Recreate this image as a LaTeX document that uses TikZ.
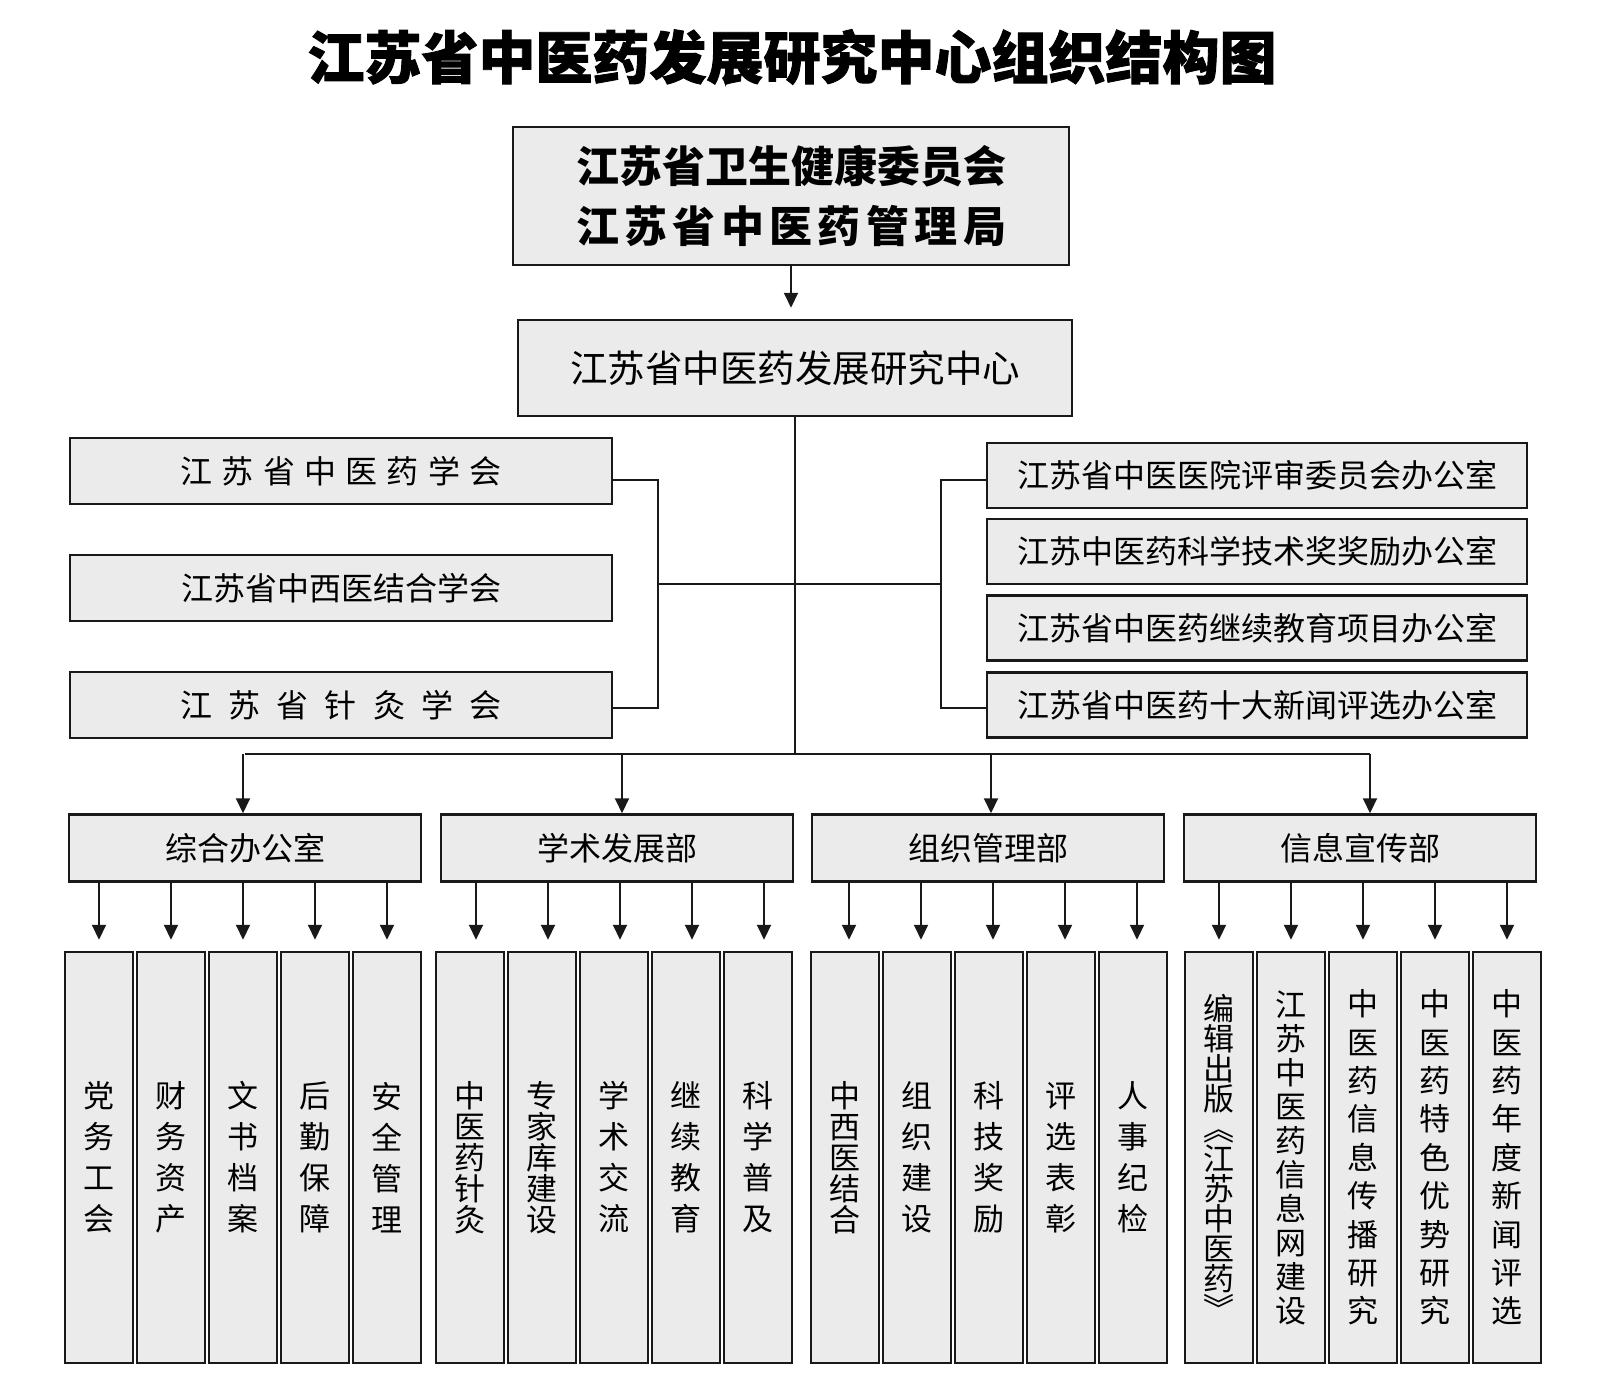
\documentclass[tikz,border=0pt]{standalone}
\usepackage{fontspec}
\setmainfont{Noto Sans CJK SC}
\newfontfamily\titlefont[BoldFeatures={FakeBold=1.5}]{Noto Sans CJK SC}
\usetikzlibrary{shapes,arrows.meta,positioning,calc}
\definecolor{boxgray}{RGB}{235,235,235}
\definecolor{linegray}{RGB}{25,25,25}

\tikzset{
  box/.style={draw=linegray, line width=2.5pt, fill=boxgray, inner sep=0pt, align=center},
  conn/.style={draw=linegray, line width=2pt},
  arr/.style={conn, -{Triangle[length=15pt,width=14pt]}},
  soc/.style={box, minimum width=542pt, minimum height=66pt, font=\fontsize{32}{36}\selectfont},
  office/.style={box, minimum width=540pt, minimum height=65pt, font=\fontsize{32}{36}\selectfont},
  dept/.style={box, minimum width=352pt, minimum height=67pt, font=\fontsize{32}{36}\selectfont},
  leaf/.style={box, minimum width=68pt, minimum height=411pt, font=\fontsize{31}{#1}\selectfont},
}

\begin{document}
\begin{tikzpicture}[x=1pt, y=-1pt]
  \useasboundingbox (0,0) rectangle (1616,1395);
  % title
  \node (title) at (792,57) {\titlefont\bfseries\fontsize{57}{60}\selectfont 江苏省中医药发展研究中心组织结构图};

  % top levels
  \node[box, minimum width=556pt, minimum height=138pt, font=\bfseries\fontsize{43}{60}\selectfont] (wjw) at (791,196) {江苏省卫生健康委员会\\\makebox[430pt][s]{江\hfill 苏\hfill 省\hfill 中\hfill 医\hfill 药\hfill 管\hfill 理\hfill 局}};
  \node[box, minimum width=554pt, minimum height=96pt, font=\fontsize{37.5}{40}\selectfont] (zx) at (795,368) {江苏省中医药发展研究中心};
  \draw[arr, shorten >=11pt] (wjw.south) -- (wjw.south |- zx.north);

  % societies (left) and offices (right)
  \node[soc] (xh1) at (341,471) {\makebox[321pt][s]{江\hfill 苏\hfill 省\hfill 中\hfill 医\hfill 药\hfill 学\hfill 会}};
  \node[soc] (xh2) at (341,588) {江苏省中西医结合学会};
  \node[soc] (xh3) at (341,705) {\makebox[321pt][s]{江\hfill 苏\hfill 省\hfill 针\hfill 灸\hfill 学\hfill 会}};

  \node[office] (bg1) at (1257,475.5) {江苏省中医医院评审委员会办公室};
  \node[office] (bg2) at (1257,551.5) {江苏中医药科学技术奖奖励办公室};
  \node[office] (bg3) at (1257,628) {江苏省中医药继续教育项目办公室};
  \node[office] (bg4) at (1257,705) {江苏省中医药十大新闻评选办公室};

  \coordinate (lj) at (658,584);
  \coordinate (rj) at (941,584);
  \coordinate (busmid) at (795,754);
  \draw[conn] ([yshift=-9pt]xh1.east) -| (lj) |- ([yshift=-3pt]xh3.east);
  \draw[conn] ([yshift=-4.5pt]bg1.west) -| (rj) |- ([yshift=-3pt]bg4.west);
  \draw[conn] (lj) -- (rj);
  \draw[conn] (zx.south) -- (busmid);

  % departments
  \node[dept] (ka) at (245,848) {综合办公室};
  \node[dept] (kb) at (617,848) {学术发展部};
  \node[dept] (kc) at (988,848) {组织管理部};
  \node[dept] (kd) at (1360,848) {信息宣传部};
  \draw[conn] (ka.north |- busmid) -- ([xshift=10pt]kd.north |- busmid);
  \foreach \k/\dx in {ka/-2,kb/5,kc/3,kd/10}
    \draw[arr] ([xshift=\dx pt]\k.north |- busmid) -- ([xshift=\dx pt]\k.north);

  % sections
  \foreach \x/\s/\t [count=\i] in {99/41/{党\\务\\工\\会}, 171/41/{财\\务\\资\\产}, 243/41/{文\\书\\档\\案}, 315/41/{后\\勤\\保\\障}, 387/41/{安\\全\\管\\理}} {
    \node[leaf=\s] (a\i) at (\x,1157.5) {\t};
    \draw[arr, shorten >=11pt] (ka.south -| a\i.north) -- (a\i.north);
  }
  \foreach \x/\s/\t [count=\i] in {470/31/{中\\医\\药\\针\\灸}, 542/31/{专\\家\\库\\建\\设}, 614/41/{学\\术\\交\\流}, 686/41/{继\\续\\教\\育}, 758/41/{科\\学\\普\\及}} {
    \node[leaf=\s] (b\i) at (\x,1157.5) {\t};
    \draw[arr, shorten >=11pt] ([xshift=6pt]kb.south -| b\i.north) -- ([xshift=6pt]b\i.north);
  }
  \foreach \x/\s/\t [count=\i] in {845/31/{中\\西\\医\\结\\合}, 917/41/{组\\织\\建\\设}, 989/41/{科\\技\\奖\\励}, 1061/41/{评\\选\\表\\彰}, 1133/41/{人\\事\\纪\\检}} {
    \node[leaf=\s] (c\i) at (\x,1157.5) {\t};
    \draw[arr, shorten >=11pt] ([xshift=4pt]kc.south -| c\i.north) -- ([xshift=4pt]c\i.north);
  }
  \foreach \x/\s/\t [count=\i] in {1219/30/{编\\辑\\出\\版\\︽\\江\\苏\\中\\医\\药\\︾}, 1291/34/{江\\苏\\中\\医\\药\\信\\息\\网\\建\\设}, 1363/38.4/{中\\医\\药\\信\\息\\传\\播\\研\\究}, 1435/38.4/{中\\医\\药\\特\\色\\优\\势\\研\\究}, 1507/38.4/{中\\医\\药\\年\\度\\新\\闻\\评\\选}} {
    \node[leaf=\s] (d\i) at (\x,1157.5) {\t};
    \draw[arr, shorten >=11pt] (kd.south -| d\i.north) -- (d\i.north);
  }
\end{tikzpicture}
\end{document}
